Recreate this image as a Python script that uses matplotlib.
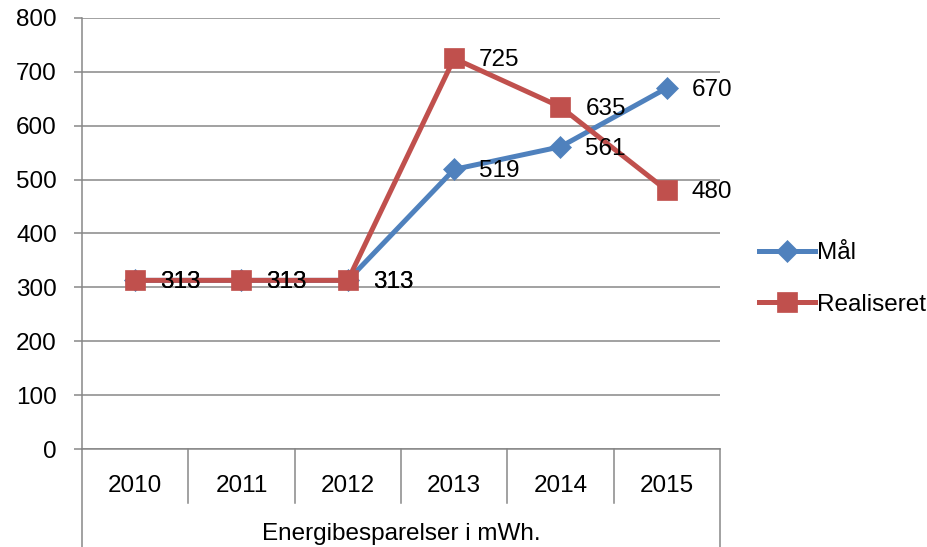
import matplotlib.pyplot as plt
import numpy as np

#--------------------# DONNÉES #--------------------#

aar = ["2010", "2011", "2012", "2013", "2014", "2015"]
maal = [313, 313, 313, 519, 561, 670]
realiseret = [313, 313, 313, 725, 635, 480]
gruppe = "Energibesparelser i mWh."
y_ticks = [0, 100, 200, 300, 400, 500, 600, 700, 800]

#--------------------# STYLE #--------------------#

plt.rcParams['font.family'] = ['Liberation Sans', 'DejaVu Sans']
fs = 17.5
gris = '#878787'
bleu = '#4F81BD'
rouge = '#C0504D'

fig = plt.figure(figsize=(9.28, 5.47), dpi=100)
ax = fig.add_axes([82/928, 1 - 449/547, (720 - 82)/928, (449 - 18)/547])

x = np.arange(len(aar))
ax.plot(x, maal, color=bleu, lw=3.6, marker='D', ms=11.5, mec=bleu, mew=0.5,
        label="Mål", zorder=3)
ax.plot(x, realiseret, color=rouge, lw=3.6, marker='s', ms=14, mec=rouge, mew=0.5,
        label="Realiseret", zorder=4)

# étiquettes de données
for serie in (maal, realiseret):
    for xi, v in zip(x, serie):
        ax.annotate(str(v), (xi, v), xytext=(18, -1.5), textcoords='offset points',
                    va='center', ha='left', fontsize=fs, zorder=6)

ax.set_xlim(-0.5, len(aar) - 0.5)
ax.set_ylim(0, 800)
ax.set_yticks(y_ticks)
ax.tick_params(axis='y', length=6, width=1.1, color=gris, labelsize=fs, pad=12)
ax.set_xticks([])
ax.yaxis.grid(True, color=gris, lw=1.1)
ax.set_axisbelow(True)
for s in ['top', 'right', 'bottom']:
    ax.spines[s].set_visible(False)
ax.spines['left'].set_color(gris)
ax.spines['left'].set_linewidth(1.1)

# axe des catégories à deux niveaux
trans = ax.get_xaxis_transform()
ax.plot([-0.5, len(aar) - 0.5], [0, 0], color=gris, lw=1.1, transform=trans,
        clip_on=False, zorder=2)
for xi, a in zip(x, aar):
    ax.text(xi, -0.085, a, ha='center', va='center', fontsize=fs, transform=trans)
for b in np.arange(0.5, len(aar) - 0.5):
    ax.plot([b, b], [0, -0.125], color=gris, lw=1.1, transform=trans, clip_on=False)
for b in [-0.5, len(aar) - 0.5]:
    ax.plot([b, b], [0, -0.235], color=gris, lw=1.1, transform=trans, clip_on=False)
ax.text((len(aar) - 1) / 2, -0.198, gruppe, ha='center', va='center', fontsize=fs,
        transform=trans)

fig.legend(loc='center left', bbox_to_anchor=(759/928, 1 - 279/547), frameon=False,
           fontsize=fs, handlelength=2.3, handletextpad=0.1, labelspacing=1.2,
           borderpad=0, borderaxespad=0)

fig.savefig("out.png", dpi=100)
